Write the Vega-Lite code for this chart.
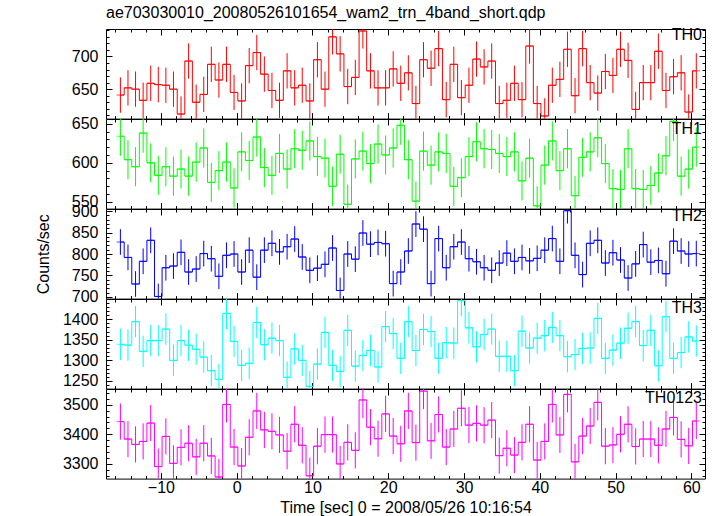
{
 "$schema": "https://vega.github.io/schema/vega-lite/v6.json",
 "padding": {"left": 34, "top": 4, "right": 5, "bottom": 0},
 "background": "white",
 "title": {"text": "ae703030010_20080526101654_wam2_trn_4band_short.qdp", "anchor": "start", "frame": "group", "offset": 1, "font": "Liberation Sans", "fontSize": 16, "fontWeight": "normal", "color": "#000"},
 "data": {"values": [
  {"t":-15.35,"TH0":641,"TH1":634,"TH2":828,"TH3":1339,"TH0123":3443,"e0":27,"e1":25,"e2":30,"e3":38,"e4":61},
  {"t":-14.35,"TH0":652,"TH1":604,"TH2":792,"TH3":1337,"TH0123":3384,"e0":27,"e1":25,"e2":30,"e3":38,"e4":61},
  {"t":-13.35,"TH0":650,"TH1":595,"TH2":730,"TH3":1394,"TH0123":3366,"e0":27,"e1":25,"e2":30,"e3":38,"e4":61},
  {"t":-12.35,"TH0":633,"TH1":638,"TH2":783,"TH3":1322,"TH0123":3376,"e0":27,"e1":25,"e2":30,"e3":38,"e4":61},
  {"t":-11.35,"TH0":659,"TH1":600,"TH2":832,"TH3":1348,"TH0123":3438,"e0":27,"e1":25,"e2":30,"e3":38,"e4":61},
  {"t":-10.35,"TH0":657,"TH1":584,"TH2":701,"TH3":1348,"TH0123":3291,"e0":27,"e1":25,"e2":30,"e3":38,"e4":61},
  {"t":-9.35,"TH0":656,"TH1":595,"TH2":768,"TH3":1376,"TH0123":3393,"e0":27,"e1":25,"e2":30,"e3":38,"e4":61},
  {"t":-8.35,"TH0":650,"TH1":583,"TH2":772,"TH3":1300,"TH0123":3302,"e0":27,"e1":25,"e2":30,"e3":38,"e4":61},
  {"t":-7.35,"TH0":612,"TH1":592,"TH2":804,"TH3":1348,"TH0123":3356,"e0":27,"e1":25,"e2":30,"e3":38,"e4":61},
  {"t":-6.35,"TH0":693,"TH1":583,"TH2":758,"TH3":1337,"TH0123":3370,"e0":27,"e1":25,"e2":30,"e3":38,"e4":61},
  {"t":-5.35,"TH0":630,"TH1":601,"TH2":765,"TH3":1327,"TH0123":3324,"e0":27,"e1":25,"e2":30,"e3":38,"e4":61},
  {"t":-4.35,"TH0":642,"TH1":619,"TH2":801,"TH3":1308,"TH0123":3370,"e0":27,"e1":25,"e2":30,"e3":38,"e4":61},
  {"t":-3.35,"TH0":688,"TH1":575,"TH2":789,"TH3":1275,"TH0123":3327,"e0":27,"e1":25,"e2":30,"e3":38,"e4":61},
  {"t":-2.35,"TH0":664,"TH1":590,"TH2":748,"TH3":1254,"TH0123":3256,"e0":27,"e1":25,"e2":30,"e3":38,"e4":61},
  {"t":-1.35,"TH0":688,"TH1":601,"TH2":797,"TH3":1414,"TH0123":3501,"e0":27,"e1":25,"e2":30,"e3":38,"e4":61},
  {"t":-0.35,"TH0":645,"TH1":568,"TH2":800,"TH3":1346,"TH0123":3357,"e0":27,"e1":25,"e2":30,"e3":38,"e4":61},
  {"t":0.65,"TH0":632,"TH1":614,"TH2":758,"TH3":1288,"TH0123":3293,"e0":27,"e1":25,"e2":30,"e3":38,"e4":61},
  {"t":1.65,"TH0":686,"TH1":603,"TH2":809,"TH3":1293,"TH0123":3390,"e0":27,"e1":25,"e2":30,"e3":38,"e4":61},
  {"t":2.65,"TH0":706,"TH1":633,"TH2":746,"TH3":1392,"TH0123":3479,"e0":27,"e1":25,"e2":30,"e3":38,"e4":61},
  {"t":3.65,"TH0":673,"TH1":594,"TH2":809,"TH3":1338,"TH0123":3415,"e0":27,"e1":25,"e2":30,"e3":38,"e4":61},
  {"t":4.65,"TH0":648,"TH1":584,"TH2":825,"TH3":1354,"TH0123":3410,"e0":27,"e1":25,"e2":30,"e3":38,"e4":61},
  {"t":5.65,"TH0":633,"TH1":612,"TH2":805,"TH3":1348,"TH0123":3398,"e0":27,"e1":25,"e2":30,"e3":38,"e4":61},
  {"t":6.65,"TH0":678,"TH1":592,"TH2":817,"TH3":1259,"TH0123":3343,"e0":27,"e1":25,"e2":30,"e3":38,"e4":61},
  {"t":7.65,"TH0":652,"TH1":618,"TH2":835,"TH3":1328,"TH0123":3434,"e0":27,"e1":25,"e2":30,"e3":38,"e4":61},
  {"t":8.65,"TH0":656,"TH1":616,"TH2":793,"TH3":1300,"TH0123":3363,"e0":27,"e1":25,"e2":30,"e3":38,"e4":61},
  {"t":9.65,"TH0":632,"TH1":628,"TH2":762,"TH3":1237,"TH0123":3260,"e0":27,"e1":25,"e2":30,"e3":38,"e4":61},
  {"t":10.65,"TH0":695,"TH1":608,"TH2":767,"TH3":1291,"TH0123":3360,"e0":27,"e1":25,"e2":30,"e3":38,"e4":61},
  {"t":11.65,"TH0":650,"TH1":606,"TH2":776,"TH3":1368,"TH0123":3399,"e0":27,"e1":25,"e2":30,"e3":38,"e4":61},
  {"t":12.65,"TH0":730,"TH1":570,"TH2":814,"TH3":1288,"TH0123":3399,"e0":27,"e1":25,"e2":30,"e3":38,"e4":61},
  {"t":13.65,"TH0":704,"TH1":611,"TH2":715,"TH3":1273,"TH0123":3300,"e0":27,"e1":25,"e2":30,"e3":38,"e4":61},
  {"t":14.65,"TH0":654,"TH1":547,"TH2":800,"TH3":1373,"TH0123":3373,"e0":27,"e1":25,"e2":30,"e3":38,"e4":61},
  {"t":15.65,"TH0":668,"TH1":605,"TH2":788,"TH3":1286,"TH0123":3346,"e0":27,"e1":25,"e2":30,"e3":38,"e4":61},
  {"t":16.65,"TH0":739,"TH1":615,"TH2":849,"TH3":1312,"TH0123":3516,"e0":27,"e1":25,"e2":30,"e3":38,"e4":61},
  {"t":17.65,"TH0":678,"TH1":599,"TH2":823,"TH3":1324,"TH0123":3424,"e0":27,"e1":25,"e2":30,"e3":38,"e4":61},
  {"t":18.65,"TH0":652,"TH1":624,"TH2":827,"TH3":1284,"TH0123":3385,"e0":27,"e1":25,"e2":30,"e3":38,"e4":61},
  {"t":19.65,"TH0":652,"TH1":610,"TH2":824,"TH3":1382,"TH0123":3469,"e0":27,"e1":25,"e2":30,"e3":38,"e4":61},
  {"t":20.65,"TH0":681,"TH1":619,"TH2":731,"TH3":1365,"TH0123":3394,"e0":27,"e1":25,"e2":30,"e3":38,"e4":61},
  {"t":21.65,"TH0":659,"TH1":648,"TH2":758,"TH3":1305,"TH0123":3368,"e0":27,"e1":25,"e2":30,"e3":38,"e4":61},
  {"t":22.65,"TH0":675,"TH1":604,"TH2":807,"TH3":1394,"TH0123":3479,"e0":27,"e1":25,"e2":30,"e3":38,"e4":61},
  {"t":23.65,"TH0":628,"TH1":551,"TH2":870,"TH3":1324,"TH0123":3372,"e0":27,"e1":25,"e2":30,"e3":38,"e4":61},
  {"t":24.65,"TH0":695,"TH1":615,"TH2":858,"TH3":1375,"TH0123":3546,"e0":27,"e1":25,"e2":30,"e3":38,"e4":61},
  {"t":25.65,"TH0":682,"TH1":597,"TH2":731,"TH3":1370,"TH0123":3378,"e0":27,"e1":25,"e2":30,"e3":38,"e4":61},
  {"t":26.65,"TH0":712,"TH1":614,"TH2":836,"TH3":1305,"TH0123":3467,"e0":27,"e1":25,"e2":30,"e3":38,"e4":61},
  {"t":27.65,"TH0":634,"TH1":612,"TH2":768,"TH3":1343,"TH0123":3357,"e0":27,"e1":25,"e2":30,"e3":38,"e4":61},
  {"t":28.65,"TH0":688,"TH1":570,"TH2":817,"TH3":1342,"TH0123":3418,"e0":27,"e1":25,"e2":30,"e3":38,"e4":61},
  {"t":29.65,"TH0":637,"TH1":581,"TH2":828,"TH3":1445,"TH0123":3488,"e0":27,"e1":25,"e2":30,"e3":38,"e4":61},
  {"t":30.65,"TH0":656,"TH1":608,"TH2":789,"TH3":1379,"TH0123":3431,"e0":27,"e1":25,"e2":30,"e3":38,"e4":61},
  {"t":31.65,"TH0":696,"TH1":627,"TH2":782,"TH3":1333,"TH0123":3437,"e0":27,"e1":25,"e2":30,"e3":38,"e4":61},
  {"t":32.65,"TH0":684,"TH1":618,"TH2":768,"TH3":1363,"TH0123":3431,"e0":27,"e1":25,"e2":30,"e3":38,"e4":61},
  {"t":33.65,"TH0":693,"TH1":617,"TH2":762,"TH3":1376,"TH0123":3448,"e0":27,"e1":25,"e2":30,"e3":38,"e4":61},
  {"t":34.65,"TH0":628,"TH1":612,"TH2":779,"TH3":1310,"TH0123":3328,"e0":27,"e1":25,"e2":30,"e3":38,"e4":61},
  {"t":35.65,"TH0":633,"TH1":608,"TH2":802,"TH3":1310,"TH0123":3353,"e0":27,"e1":25,"e2":30,"e3":38,"e4":61},
  {"t":36.65,"TH0":659,"TH1":614,"TH2":783,"TH3":1275,"TH0123":3330,"e0":27,"e1":25,"e2":30,"e3":38,"e4":61},
  {"t":37.65,"TH0":634,"TH1":577,"TH2":792,"TH3":1371,"TH0123":3373,"e0":27,"e1":25,"e2":30,"e3":38,"e4":61},
  {"t":38.65,"TH0":716,"TH1":606,"TH2":784,"TH3":1330,"TH0123":3434,"e0":27,"e1":25,"e2":30,"e3":38,"e4":61},
  {"t":39.65,"TH0":628,"TH1":545,"TH2":790,"TH3":1354,"TH0123":3313,"e0":27,"e1":25,"e2":30,"e3":38,"e4":61},
  {"t":40.65,"TH0":609,"TH1":597,"TH2":809,"TH3":1360,"TH0123":3376,"e0":27,"e1":25,"e2":30,"e3":38,"e4":61},
  {"t":41.65,"TH0":656,"TH1":628,"TH2":836,"TH3":1380,"TH0123":3501,"e0":27,"e1":25,"e2":30,"e3":38,"e4":61},
  {"t":42.65,"TH0":665,"TH1":590,"TH2":783,"TH3":1360,"TH0123":3398,"e0":27,"e1":25,"e2":30,"e3":38,"e4":61},
  {"t":43.65,"TH0":711,"TH1":618,"TH2":901,"TH3":1309,"TH0123":3535,"e0":27,"e1":25,"e2":30,"e3":38,"e4":61},
  {"t":44.65,"TH0":640,"TH1":558,"TH2":797,"TH3":1314,"TH0123":3307,"e0":27,"e1":25,"e2":30,"e3":38,"e4":61},
  {"t":45.65,"TH0":712,"TH1":607,"TH2":752,"TH3":1329,"TH0123":3394,"e0":27,"e1":25,"e2":30,"e3":38,"e4":61},
  {"t":46.65,"TH0":660,"TH1":614,"TH2":825,"TH3":1330,"TH0123":3428,"e0":27,"e1":25,"e2":30,"e3":38,"e4":61},
  {"t":47.65,"TH0":644,"TH1":632,"TH2":832,"TH3":1402,"TH0123":3508,"e0":27,"e1":25,"e2":30,"e3":38,"e4":61},
  {"t":48.65,"TH0":677,"TH1":599,"TH2":779,"TH3":1305,"TH0123":3360,"e0":27,"e1":25,"e2":30,"e3":38,"e4":61},
  {"t":49.65,"TH0":671,"TH1":567,"TH2":803,"TH3":1325,"TH0123":3364,"e0":27,"e1":25,"e2":30,"e3":38,"e4":61},
  {"t":50.65,"TH0":711,"TH1":566,"TH2":786,"TH3":1342,"TH0123":3400,"e0":27,"e1":25,"e2":30,"e3":38,"e4":61},
  {"t":51.65,"TH0":694,"TH1":618,"TH2":744,"TH3":1378,"TH0123":3434,"e0":27,"e1":25,"e2":30,"e3":38,"e4":61},
  {"t":52.65,"TH0":619,"TH1":567,"TH2":777,"TH3":1394,"TH0123":3359,"e0":27,"e1":25,"e2":30,"e3":38,"e4":61},
  {"t":53.65,"TH0":660,"TH1":566,"TH2":822,"TH3":1336,"TH0123":3384,"e0":27,"e1":25,"e2":30,"e3":38,"e4":61},
  {"t":54.65,"TH0":660,"TH1":571,"TH2":781,"TH3":1373,"TH0123":3384,"e0":27,"e1":25,"e2":30,"e3":38,"e4":61},
  {"t":55.65,"TH0":708,"TH1":587,"TH2":785,"TH3":1287,"TH0123":3363,"e0":27,"e1":25,"e2":30,"e3":38,"e4":61},
  {"t":56.65,"TH0":648,"TH1":609,"TH2":754,"TH3":1406,"TH0123":3418,"e0":27,"e1":25,"e2":30,"e3":38,"e4":61},
  {"t":57.65,"TH0":669,"TH1":653,"TH2":830,"TH3":1305,"TH0123":3457,"e0":27,"e1":25,"e2":30,"e3":38,"e4":61},
  {"t":58.65,"TH0":675,"TH1":583,"TH2":807,"TH3":1319,"TH0123":3383,"e0":27,"e1":25,"e2":30,"e3":38,"e4":61},
  {"t":59.65,"TH0":615,"TH1":592,"TH2":800,"TH3":1357,"TH0123":3361,"e0":27,"e1":25,"e2":30,"e3":38,"e4":61},
  {"t":60.65,"TH0":678,"TH1":620,"TH2":801,"TH3":1347,"TH0123":3445,"e0":27,"e1":25,"e2":30,"e3":38,"e4":61}
 ]},
 "spacing": 0,
 "bounds": "flush",
 "resolve": {"scale": {"x": "independent", "y": "independent"}},
 "vconcat": [
  {
   "width": 599, "height": 89.6,
   "title": {"text": "TH0", "anchor": "end", "frame": "group", "offset": -21, "dx": -3},
   "resolve": {"axis": {"x": "independent", "y": "independent"}},
   "layer": [
    {"mark": {"type": "line", "interpolate": "step", "color": "#ff0000", "strokeWidth": 1},
     "encoding": {
      "x": {"field": "t", "type": "quantitative", "scale": {"domain": [-17.25, 61.8], "nice": false, "zero": false},
            "axis": {"orient": "bottom", "values": [-16,-14,-12,-10,-8,-6,-4,-2,0,2,4,6,8,10,12,14,16,18,20,22,24,26,28,30,32,34,36,38,40,42,44,46,48,50,52,54,56,58,60], "labels": false, "title": null, "tickSize": {"condition": {"test": "datum.value % 10 === 0", "value": -6}, "value": -3}}},
      "y": {"field": "TH0", "type": "quantitative", "scale": {"domain": [605, 742], "nice": false, "zero": false, "clamp": true},
            "axis": {"orient": "left", "format": "d", "values": [610,620,630,640,650,660,670,680,690,700,710,720,730,740], "labelExpr": "datum.value % 50 === 0 ? datum.label : ''", "title": null, "tickSize": {"condition": {"test": "datum.value % 50 === 0", "value": -6}, "value": -3}}}
     }},
    {"mark": {"type": "tick", "orient": "horizontal", "size": 7.58, "thickness": 1, "color": "#ff0000"},
     "encoding": {
      "x": {"field": "t", "type": "quantitative",
            "axis": {"orient": "top", "values": [-16,-14,-12,-10,-8,-6,-4,-2,0,2,4,6,8,10,12,14,16,18,20,22,24,26,28,30,32,34,36,38,40,42,44,46,48,50,52,54,56,58,60], "labels": false, "title": null, "tickSize": {"condition": {"test": "datum.value % 10 === 0", "value": -6}, "value": -3}}},
      "y": {"field": "TH0", "type": "quantitative",
            "axis": {"orient": "right", "values": [610,620,630,640,650,660,670,680,690,700,710,720,730,740], "labels": false, "title": null, "tickSize": {"condition": {"test": "datum.value % 50 === 0", "value": -6}, "value": -3}}}
     }},
    {"mark": {"type": "errorbar", "color": "#ff0000", "thickness": 1},
     "encoding": {
      "x": {"field": "t", "type": "quantitative", "axis": null},
      "y": {"field": "TH0", "type": "quantitative", "axis": null},
      "yError": {"field": "e0"}
     }}
   ]
  },
  {
   "width": 599, "height": 89.6,
   "title": {"text": "TH1", "anchor": "end", "frame": "group", "offset": -21, "dx": -3},
   "resolve": {"axis": {"x": "independent", "y": "independent"}},
   "layer": [
    {"mark": {"type": "line", "interpolate": "step", "color": "#00ff00", "strokeWidth": 1},
     "encoding": {
      "x": {"field": "t", "type": "quantitative", "scale": {"domain": [-17.25, 61.8], "nice": false, "zero": false},
            "axis": {"orient": "bottom", "values": [-16,-14,-12,-10,-8,-6,-4,-2,0,2,4,6,8,10,12,14,16,18,20,22,24,26,28,30,32,34,36,38,40,42,44,46,48,50,52,54,56,58,60], "labels": false, "title": null, "tickSize": {"condition": {"test": "datum.value % 10 === 0", "value": -6}, "value": -3}}},
      "y": {"field": "TH1", "type": "quantitative", "scale": {"domain": [541.5, 656], "nice": false, "zero": false, "clamp": true},
            "axis": {"orient": "left", "format": "d", "values": [550,560,570,580,590,600,610,620,630,640,650], "labelExpr": "datum.value % 50 === 0 ? datum.label : ''", "title": null, "tickSize": {"condition": {"test": "datum.value % 50 === 0", "value": -6}, "value": -3}}}
     }},
    {"mark": {"type": "tick", "orient": "horizontal", "size": 7.58, "thickness": 1, "color": "#00ff00"},
     "encoding": {
      "x": {"field": "t", "type": "quantitative",
            "axis": {"orient": "top", "values": [-16,-14,-12,-10,-8,-6,-4,-2,0,2,4,6,8,10,12,14,16,18,20,22,24,26,28,30,32,34,36,38,40,42,44,46,48,50,52,54,56,58,60], "labels": false, "title": null, "tickSize": {"condition": {"test": "datum.value % 10 === 0", "value": -6}, "value": -3}}},
      "y": {"field": "TH1", "type": "quantitative",
            "axis": {"orient": "right", "values": [550,560,570,580,590,600,610,620,630,640,650], "labels": false, "title": null, "tickSize": {"condition": {"test": "datum.value % 50 === 0", "value": -6}, "value": -3}}}
     }},
    {"mark": {"type": "errorbar", "color": "#00ff00", "thickness": 1},
     "encoding": {
      "x": {"field": "t", "type": "quantitative", "axis": null},
      "y": {"field": "TH1", "type": "quantitative", "axis": null},
      "yError": {"field": "e1"}
     }}
   ]
  },
  {
   "width": 599, "height": 89.6,
   "title": {"text": "TH2", "anchor": "end", "frame": "group", "offset": -21, "dx": -3},
   "resolve": {"axis": {"x": "independent", "y": "independent"}},
   "layer": [
    {"mark": {"type": "line", "interpolate": "step", "color": "#0000ff", "strokeWidth": 1},
     "encoding": {
      "x": {"field": "t", "type": "quantitative", "scale": {"domain": [-17.25, 61.8], "nice": false, "zero": false},
            "axis": {"orient": "bottom", "values": [-16,-14,-12,-10,-8,-6,-4,-2,0,2,4,6,8,10,12,14,16,18,20,22,24,26,28,30,32,34,36,38,40,42,44,46,48,50,52,54,56,58,60], "labels": false, "title": null, "tickSize": {"condition": {"test": "datum.value % 10 === 0", "value": -6}, "value": -3}}},
      "y": {"field": "TH2", "type": "quantitative", "scale": {"domain": [696, 905], "nice": false, "zero": false, "clamp": true},
            "axis": {"orient": "left", "format": "d", "values": [700,710,720,730,740,750,760,770,780,790,800,810,820,830,840,850,860,870,880,890,900], "labelExpr": "datum.value % 50 === 0 ? datum.label : ''", "title": "Counts/sec", "titlePadding": 20, "tickSize": {"condition": {"test": "datum.value % 50 === 0", "value": -6}, "value": -3}}}
     }},
    {"mark": {"type": "tick", "orient": "horizontal", "size": 7.58, "thickness": 1, "color": "#0000ff"},
     "encoding": {
      "x": {"field": "t", "type": "quantitative",
            "axis": {"orient": "top", "values": [-16,-14,-12,-10,-8,-6,-4,-2,0,2,4,6,8,10,12,14,16,18,20,22,24,26,28,30,32,34,36,38,40,42,44,46,48,50,52,54,56,58,60], "labels": false, "title": null, "tickSize": {"condition": {"test": "datum.value % 10 === 0", "value": -6}, "value": -3}}},
      "y": {"field": "TH2", "type": "quantitative",
            "axis": {"orient": "right", "values": [700,710,720,730,740,750,760,770,780,790,800,810,820,830,840,850,860,870,880,890,900], "labels": false, "title": null, "tickSize": {"condition": {"test": "datum.value % 50 === 0", "value": -6}, "value": -3}}}
     }},
    {"mark": {"type": "errorbar", "color": "#0000ff", "thickness": 1},
     "encoding": {
      "x": {"field": "t", "type": "quantitative", "axis": null},
      "y": {"field": "TH2", "type": "quantitative", "axis": null},
      "yError": {"field": "e2"}
     }}
   ]
  },
  {
   "width": 599, "height": 89.6,
   "title": {"text": "TH3", "anchor": "end", "frame": "group", "offset": -21, "dx": -3},
   "resolve": {"axis": {"x": "independent", "y": "independent"}},
   "layer": [
    {"mark": {"type": "line", "interpolate": "step", "color": "#00ffff", "strokeWidth": 1},
     "encoding": {
      "x": {"field": "t", "type": "quantitative", "scale": {"domain": [-17.25, 61.8], "nice": false, "zero": false},
            "axis": {"orient": "bottom", "values": [-16,-14,-12,-10,-8,-6,-4,-2,0,2,4,6,8,10,12,14,16,18,20,22,24,26,28,30,32,34,36,38,40,42,44,46,48,50,52,54,56,58,60], "labels": false, "title": null, "tickSize": {"condition": {"test": "datum.value % 10 === 0", "value": -6}, "value": -3}}},
      "y": {"field": "TH3", "type": "quantitative", "scale": {"domain": [1231.5, 1449], "nice": false, "zero": false, "clamp": true},
            "axis": {"orient": "left", "format": "d", "values": [1240,1250,1260,1270,1280,1290,1300,1310,1320,1330,1340,1350,1360,1370,1380,1390,1400,1410,1420,1430,1440], "labelExpr": "datum.value % 50 === 0 ? datum.label : ''", "title": null, "tickSize": {"condition": {"test": "datum.value % 50 === 0", "value": -6}, "value": -3}}}
     }},
    {"mark": {"type": "tick", "orient": "horizontal", "size": 7.58, "thickness": 1, "color": "#00ffff"},
     "encoding": {
      "x": {"field": "t", "type": "quantitative",
            "axis": {"orient": "top", "values": [-16,-14,-12,-10,-8,-6,-4,-2,0,2,4,6,8,10,12,14,16,18,20,22,24,26,28,30,32,34,36,38,40,42,44,46,48,50,52,54,56,58,60], "labels": false, "title": null, "tickSize": {"condition": {"test": "datum.value % 10 === 0", "value": -6}, "value": -3}}},
      "y": {"field": "TH3", "type": "quantitative",
            "axis": {"orient": "right", "values": [1240,1250,1260,1270,1280,1290,1300,1310,1320,1330,1340,1350,1360,1370,1380,1390,1400,1410,1420,1430,1440], "labels": false, "title": null, "tickSize": {"condition": {"test": "datum.value % 50 === 0", "value": -6}, "value": -3}}}
     }},
    {"mark": {"type": "errorbar", "color": "#00ffff", "thickness": 1},
     "encoding": {
      "x": {"field": "t", "type": "quantitative", "axis": null},
      "y": {"field": "TH3", "type": "quantitative", "axis": null},
      "yError": {"field": "e3"}
     }}
   ]
  },
  {
   "width": 599, "height": 89.6,
   "title": {"text": "TH0123", "anchor": "end", "frame": "group", "offset": -21, "dx": -3},
   "resolve": {"axis": {"x": "independent", "y": "independent"}},
   "layer": [
    {"mark": {"type": "line", "interpolate": "step", "color": "#ff00ff", "strokeWidth": 1},
     "encoding": {
      "x": {"field": "t", "type": "quantitative", "scale": {"domain": [-17.25, 61.8], "nice": false, "zero": false},
            "axis": {"orient": "bottom", "format": "d", "values": [-16,-14,-12,-10,-8,-6,-4,-2,0,2,4,6,8,10,12,14,16,18,20,22,24,26,28,30,32,34,36,38,40,42,44,46,48,50,52,54,56,58,60], "labelExpr": "datum.value % 10 === 0 ? datum.label : ''", "labelPadding": 7, "title": "Time [sec] 0 = 2008/05/26 10:16:54", "titlePadding": 1, "tickSize": {"condition": {"test": "datum.value % 10 === 0", "value": -6}, "value": -3}}},
      "y": {"field": "TH0123", "type": "quantitative", "scale": {"domain": [3250.5, 3553], "nice": false, "zero": false, "clamp": true},
            "axis": {"orient": "left", "format": "d", "values": [3260,3280,3300,3320,3340,3360,3380,3400,3420,3440,3460,3480,3500,3520,3540], "labelExpr": "datum.value % 100 === 0 ? datum.label : ''", "title": null, "tickSize": {"condition": {"test": "datum.value % 100 === 0", "value": -6}, "value": -3}}}
     }},
    {"mark": {"type": "tick", "orient": "horizontal", "size": 7.58, "thickness": 1, "color": "#ff00ff"},
     "encoding": {
      "x": {"field": "t", "type": "quantitative",
            "axis": {"orient": "top", "values": [-16,-14,-12,-10,-8,-6,-4,-2,0,2,4,6,8,10,12,14,16,18,20,22,24,26,28,30,32,34,36,38,40,42,44,46,48,50,52,54,56,58,60], "labels": false, "title": null, "tickSize": {"condition": {"test": "datum.value % 10 === 0", "value": -6}, "value": -3}}},
      "y": {"field": "TH0123", "type": "quantitative",
            "axis": {"orient": "right", "values": [3260,3280,3300,3320,3340,3360,3380,3400,3420,3440,3460,3480,3500,3520,3540], "labels": false, "title": null, "tickSize": {"condition": {"test": "datum.value % 100 === 0", "value": -6}, "value": -3}}}
     }},
    {"mark": {"type": "errorbar", "color": "#ff00ff", "thickness": 1},
     "encoding": {
      "x": {"field": "t", "type": "quantitative", "axis": null},
      "y": {"field": "TH0123", "type": "quantitative", "axis": null},
      "yError": {"field": "e4"}
     }}
   ]
  }
 ],
 "config": {
  "font": "Liberation Sans",
  "view": {"stroke": "#000", "strokeWidth": 1},
  "axis": {"domain": false, "grid": false, "ticks": true, "tickColor": "#000", "tickWidth": 1, "labelFont": "Liberation Sans", "labelFontSize": 16, "labelColor": "#000", "labelPadding": 14, "labelOverlap": false, "labelFlush": false, "labelBound": false, "titleFont": "Liberation Sans", "titleFontSize": 16, "titleFontWeight": "normal", "titleColor": "#000"},
  "title": {"font": "Liberation Sans", "fontSize": 16, "fontWeight": "normal", "color": "#000", "baseline": "top"}
 }
}
